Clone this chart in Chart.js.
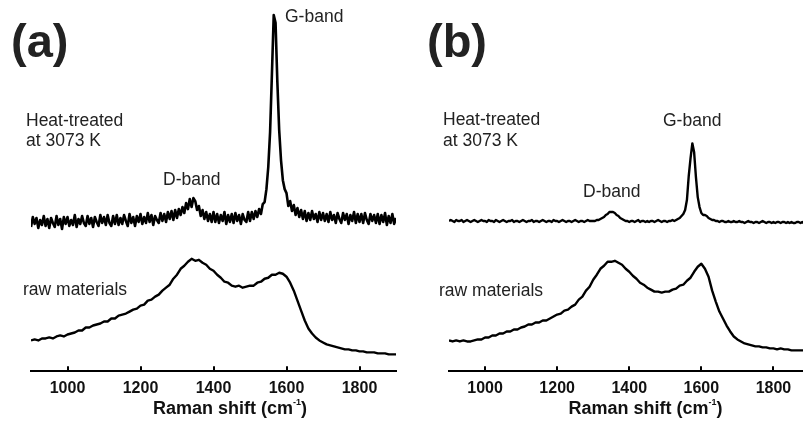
<!DOCTYPE html>
<html>
<head>
<meta charset="utf-8">
<script src="https://cdn.jsdelivr.net/npm/chart.js@4"></script>
<style>
  body { margin: 0; background: #fff; overflow: hidden; }
  canvas { position: absolute; top: 0; }
  #chartA { left: 0; }
  #chartB { left: 400px; }
</style>
</head>
<body>
<canvas id="chartA" width="400" height="422"></canvas>
<canvas id="chartB" width="403" height="422"></canvas>
<script>
// Raman shift grids (cm-1)
const shiftFine = [
  900,905,910,915,920,925,930,935,940,945,950,955,960,965,970,975,980,985,990,995,
  1000,1005,1010,1015,1020,1025,1030,1035,1040,1045,1050,1055,1060,1065,1070,1075,1080,1085,1090,1095,
  1100,1105,1110,1115,1120,1125,1130,1135,1140,1145,1150,1155,1160,1165,1170,1175,1180,1185,1190,1195,
  1200,1205,1210,1215,1220,1225,1230,1235,1240,1245,1250,1255,1260,1265,1270,1275,1280,1285,1290,1295,
  1300,1305,1310,1315,1320,1325,1330,1335,1340,1345,1350,1355,1360,1365,1370,1375,1380,1385,1390,1395,
  1400,1405,1410,1415,1420,1425,1430,1435,1440,1445,1450,1455,1460,1465,1470,1475,1480,1485,1490,1495,
  1500,1505,1510,1515,1520,1525,1530,1535,1540,1545,1550,1555,1560,1565,1570,1575,1580,1585,1590,1595,
  1600,1605,1610,1615,1620,1625,1630,1635,1640,1645,1650,1655,1660,1665,1670,1675,1680,1685,1690,1695,
  1700,1705,1710,1715,1720,1725,1730,1735,1740,1745,1750,1755,1760,1765,1770,1775,1780,1785,1790,1795,
  1800,1805,1810,1815,1820,1825,1830,1835,1840,1845,1850,1855,1860,1865,1870,1875,1880,1885,1890,1895,
  1900
]
const shiftCoarse = [
  900,910,920,930,940,950,960,970,980,990,
  1000,1010,1020,1030,1040,1050,1060,1070,1080,1090,
  1100,1110,1120,1130,1140,1150,1160,1170,1180,1190,
  1200,1210,1220,1230,1240,1250,1260,1270,1280,1290,
  1300,1310,1320,1330,1340,1350,1360,1370,1380,1390,
  1400,1410,1420,1430,1440,1450,1460,1470,1480,1490,
  1500,1510,1520,1530,1540,1550,1560,1570,1580,1590,
  1600,1610,1620,1630,1640,1650,1660,1670,1680,1690,
  1700,1710,1720,1730,1740,1750,1760,1770,1780,1790,
  1800,1810,1820,1830,1840,1850,1860,1870,1880,1890,
  1900
]
const tickValues = [1000, 1200, 1400, 1600, 1800]

// intensities (a.u.), heat-treated spectra stacked above the raw ones
const heatA = [
  145,155,148,154,144,152,147,156,146,153, 144,154,149,145,156,147,153,143,155,148,
  155,146,152,147,157,145,153,148,156,149, 146,156,148,154,145,155,150,146,157,149,
  155,147,157,149,146,156,148,157,147,154, 148,157,151,146,158,149,155,146,156,150,
  158,148,155,149,159,150,157,147,156,152, 149,159,151,158,150,160,153,161,152,162,
  154,163,157,165,159,169,163,173,165,174, 171,162,166,156,162,153,160,151,158,150,
  160,150,158,149,157,151,160,148,157,150, 158,149,159,151,157,148,158,152,150,160,
  151,160,153,161,155,163,158,168,170,183, 205,240,298,358,350,290,242,212,192,183,
  179,166,171,161,167,157,164,155,162,153, 161,151,159,152,161,153,158,150,160,152,
  159,151,158,150,160,152,157,149,159,153, 149,159,152,158,148,157,151,160,149,158,
  150,158,149,159,152,148,158,151,157,149, 158,148,157,150,159,147,156,149,158,148,
  154
]
const rawA = [
  31,32,31,33,33,34,33,35,36,35,
  37,38,39,41,41,44,44,46,47,48,
  50,50,53,53,56,57,58,60,62,63,
  66,67,71,72,75,77,81,84,87,93,
  97,103,106,110,113,111,112,109,107,103,
  101,97,94,90,89,86,85,86,84,85,
  86,86,89,90,93,94,97,97,99,98,
  95,89,81,71,61,51,43,38,34,31,
  29,27,26,25,24,23,22,22,21,21,
  20,20,19,19,19,18,18,18,17,17,
  17
]
const heatB = [
  151,152,151,150,152,151,151,152,150,151, 152,151,150,151,152,151,150,151,152,151,
  151,150,152,151,151,150,152,151,150,151, 152,151,150,151,151,152,150,151,151,150,
  151,152,151,150,151,151,152,150,151,151, 150,151,152,151,150,151,151,150,152,151,
  151,150,151,152,151,150,151,151,150,151, 152,151,150,151,151,150,151,152,151,151,
  151,151,152,152,153,154,155,157,158,160, 160,160,159,157,156,154,153,152,151,151,
  150,151,151,150,151,152,150,151,151,150, 151,150,151,151,150,151,152,151,150,151,
  151,150,151,151,152,151,152,153,154,156, 158,162,172,196,214,229,220,195,175,165,
  159,157,157,156,154,153,152,152,151,151, 150,151,151,150,150,151,150,150,151,150,
  150,151,150,150,149,150,151,150,150,149, 150,150,149,150,151,150,149,150,150,149,
  150,149,150,150,149,150,150,149,150,149, 150,149,149,150,150,149,150,149,149,150,
  149
]
const rawB = [
  31,30,31,30,31,30,30,31,32,32,
  34,34,36,36,38,38,40,40,42,42,
  44,45,47,47,49,49,51,51,53,55,
  57,58,61,62,65,67,72,75,81,85,
  92,97,103,106,110,110,111,109,107,103,
  100,96,93,89,87,84,82,80,80,79,
  80,80,82,83,86,87,91,94,100,105,
  108,103,95,81,70,60,53,46,40,35,
  32,30,28,27,26,25,25,24,24,23,
  23,22,23,22,22,21,21,21,21,21,
  21
]

const FONT = 'Arial, "Liberation Sans", sans-serif'

// inner tick marks, axis title and the text notes
const decorations = {
  id: 'decorations',
  afterDraw(chart, args, opts) {
    const ctx = chart.ctx
    const xs = chart.scales.x
    const bottom = chart.chartArea.bottom
    ctx.save()
    ctx.strokeStyle = '#000'
    ctx.lineWidth = 2
    tickValues.forEach(v => {
      const px = Math.round(xs.getPixelForValue(v))
      ctx.beginPath()
      ctx.moveTo(px, bottom)
      ctx.lineTo(px, bottom - 5)
      ctx.stroke()
    })

    ctx.fillStyle = '#111'
    ctx.textBaseline = 'alphabetic'
    const big = 'bold 18px ' + FONT, small = 'bold 9px ' + FONT
    ctx.font = big
    const w1 = ctx.measureText('Raman shift (cm').width
    const w3 = ctx.measureText(')').width
    ctx.font = small
    const w2 = ctx.measureText('-1').width
    let tx = xs.getPixelForValue(opts.titleAt) - (w1 + w2 + w3) / 2
    const ty = 414
    ctx.font = big
    ctx.fillText('Raman shift (cm', tx, ty)
    tx += w1
    ctx.font = small
    ctx.fillText('-1', tx, ty - 9)
    tx += w2
    ctx.font = big
    ctx.fillText(')', tx, ty)

    ctx.fillStyle = '#222'
    opts.notes.forEach(n => {
      ctx.font = n.font
      ctx.fillText(n.text, n.x, n.y)
    })
    ctx.restore()
  }
}

const label = '17.5px ' + FONT
const panelFont = 'bold 47px ' + FONT

const notesA = [
  { text: '(a)', x: 11, y: 57, font: panelFont },
  { text: 'G-band', x: 285, y: 22, font: label },
  { text: 'D-band', x: 163, y: 185, font: label },
  { text: 'Heat-treated', x: 26, y: 126, font: label },
  { text: 'at 3073 K', x: 26, y: 146, font: label },
  { text: 'raw materials', x: 23, y: 295, font: label }
]
const notesB = [
  { text: '(b)', x: 27, y: 57, font: panelFont },
  { text: 'G-band', x: 263, y: 126, font: label },
  { text: 'D-band', x: 183, y: 197, font: label },
  { text: 'Heat-treated', x: 43, y: 125, font: label },
  { text: 'at 3073 K', x: 43, y: 146, font: label },
  { text: 'raw materials', x: 39, y: 296, font: label }
]

const makeChart = (id, heat, raw, xMax, padLeft, padRight, heatWidth, notes) => {
  const ctx = document.getElementById(id).getContext('2d')
  return new Chart(ctx, {
    type: 'line',
    data: {
      datasets: [
        {
          label: 'Heat-treated at 3073 K',
          data: shiftFine.map((s, i) => ({ x: s, y: heat[i] })),
          borderColor: '#000',
          borderWidth: heatWidth,
          borderJoinStyle: 'round',
          pointRadius: 0,
          tension: 0
        },
        {
          label: 'raw materials',
          data: shiftCoarse.map((s, i) => ({ x: s, y: raw[i] })),
          borderColor: '#000',
          borderWidth: 2.4,
          borderJoinStyle: 'round',
          pointRadius: 0,
          tension: 0
        }
      ]
    },
    options: {
      responsive: false,
      animation: false,
      layout: { padding: { left: padLeft, right: padRight, top: 0, bottom: 16.5 } },
      plugins: {
        legend: { display: false },
        tooltip: { enabled: false },
        decorations: { notes: notes, titleAt: 1445 }
      },
      scales: {
        x: {
          type: 'linear',
          min: 900,
          max: xMax,
          afterBuildTicks: axis => { axis.ticks = tickValues.map(v => ({ value: v })) },
          grid: { display: false, drawTicks: false },
          border: { display: true, color: '#000', width: 2 },
          ticks: {
            color: '#111',
            padding: 7.5,
            maxRotation: 0,
            callback: v => String(v),
            font: { family: FONT, size: 16, weight: 'bold' }
          }
        },
        y: {
          display: false,
          min: 0,
          max: 373
        }
      }
    },
    plugins: [decorations]
  })
}

makeChart('chartA', heatA, rawA, 1900, 31, 4, 2.6, notesA)
makeChart('chartB', heatB, rawB, 1882, 49, 0, 2.4, notesB)
</script>
</body>
</html>
